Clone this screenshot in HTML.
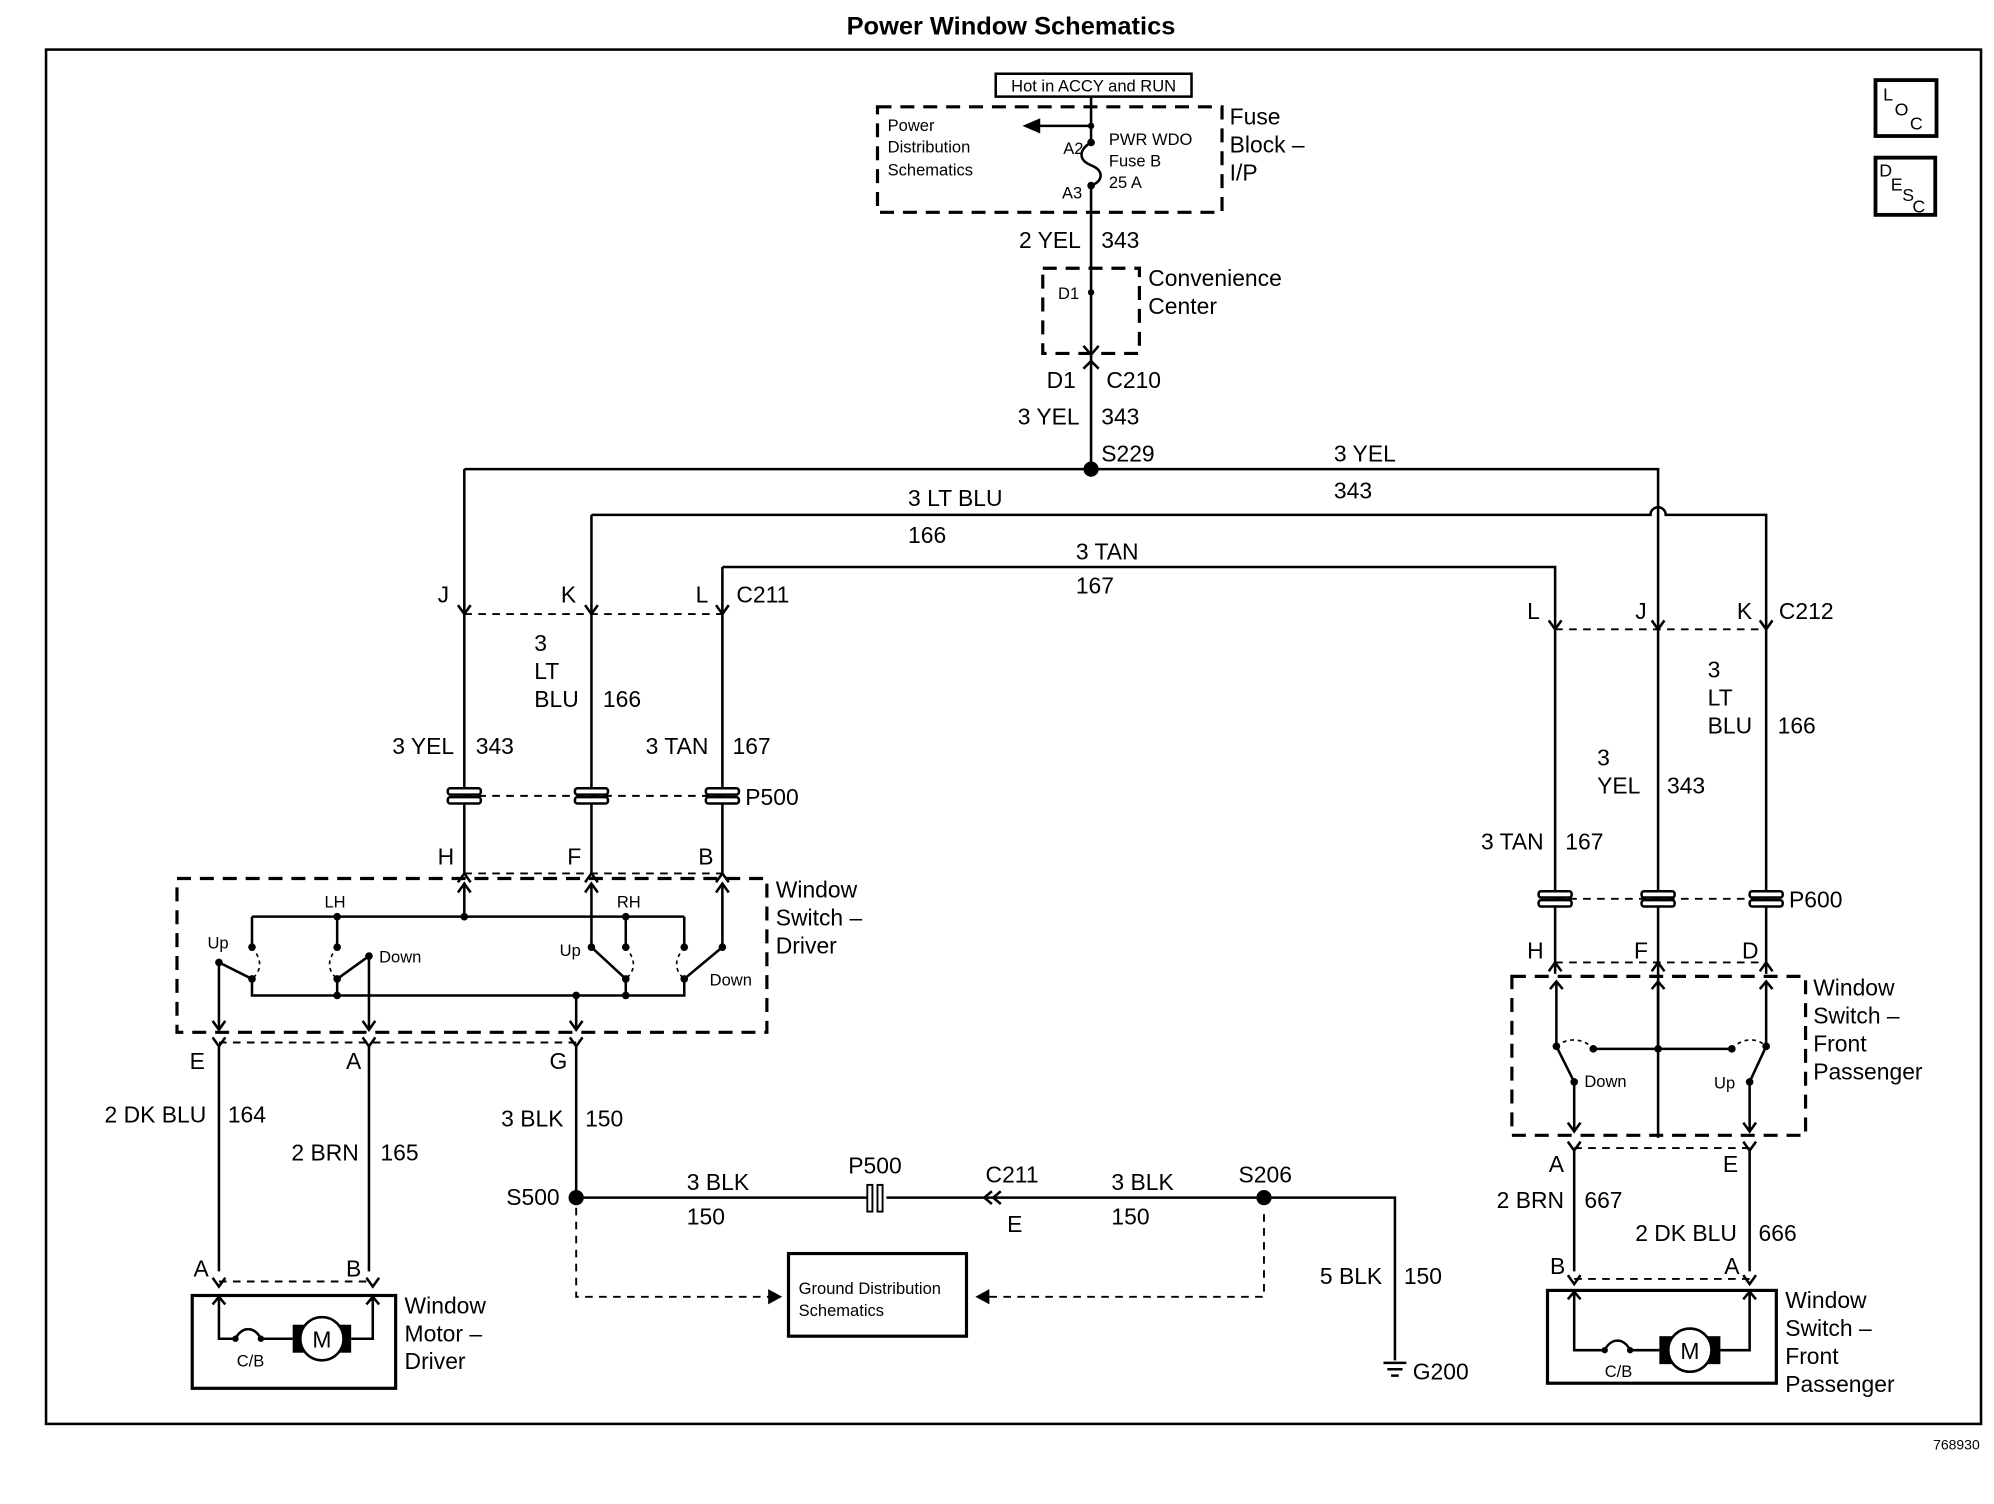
<!DOCTYPE html>
<html><head><meta charset="utf-8"><style>
html,body{margin:0;padding:0;background:#fff}
svg{display:block}
text{font-family:"Liberation Sans",Arial,sans-serif;fill:#000}
.s{stroke:#000;stroke-width:2;fill:none}
.d{stroke:#000;stroke-width:2.5;fill:none;stroke-dasharray:11 7}
.t{stroke:#000;stroke-width:1.5;fill:none;stroke-dasharray:6 5}
.dt{stroke:#000;stroke-width:1.3;fill:none;stroke-dasharray:3 3}
.l{font-size:18px}
.m{font-size:14px}
.sm{font-size:13px}
</style></head><body>
<svg width="1994" height="1504" viewBox="0 0 1568 1183" xmlns="http://www.w3.org/2000/svg">
<rect width="1568" height="1183" fill="#fff"/>
<text x="795" y="27" font-size="20" font-weight="bold" text-anchor="middle">Power Window Schematics</text>
<rect x="36" y="39" width="1522" height="1081" class="s"/>
<!-- LOC DESC -->
<rect x="1475" y="63" width="48" height="44" stroke="#000" stroke-width="3" fill="none"/>
<text x="1481" y="79" class="m">L</text><text x="1490" y="91" class="m">O</text><text x="1502" y="102" class="m">C</text>
<rect x="1475" y="124" width="47" height="45" stroke="#000" stroke-width="3" fill="none"/>
<text x="1478" y="139" class="m">D</text><text x="1487" y="150" class="m">E</text><text x="1496" y="158" class="m">S</text><text x="1504" y="167" class="m">C</text>
<!-- Fuse block -->
<rect x="783" y="58" width="154" height="18" stroke="#000" stroke-width="2" fill="none"/>
<text x="860" y="72" class="sm" text-anchor="middle">Hot in ACCY and RUN</text>
<rect x="690" y="84" width="271" height="83" class="d"/>
<text x="698" y="103" class="sm">Power</text><text x="698" y="120" class="sm">Distribution</text><text x="698" y="138" class="sm">Schematics</text>
<path class="s" d="M858 76 V112 M858 146 V369"/>
<path class="s" d="M858 112 C848 118 848 126 858 130 C868 134 868 142 858 146"/>
<path class="s" d="M858 99 H815"/><path d="M804 99 L818 93 L818 105 Z"/>
<circle cx="858" cy="99" r="2.5"/><circle cx="858" cy="112" r="3"/><circle cx="858" cy="146" r="3"/>
<text x="852" y="121" class="sm" text-anchor="end">A2</text><text x="851" y="156" class="sm" text-anchor="end">A3</text>
<text x="872" y="114" class="sm">PWR WDO</text><text x="872" y="131" class="sm">Fuse B</text><text x="872" y="148" class="sm">25 A</text>
<text x="967" y="98" class="l">Fuse</text><text x="967" y="120" class="l">Block –</text><text x="967" y="142" class="l">I/P</text>
<text x="850" y="195" class="l" text-anchor="end">2 YEL</text><text x="866" y="195" class="l">343</text>
<!-- convenience center -->
<rect x="820" y="211" width="76" height="67" class="d"/>
<circle cx="858" cy="230" r="2.5"/><text x="832" y="235" class="sm">D1</text>
<text x="903" y="225" class="l">Convenience</text><text x="903" y="247" class="l">Center</text>
<path class="s" d="M852 272 L858 279 L864 272 M852 290 L858 284 L864 290"/>
<text x="846" y="305" class="l" text-anchor="end">D1</text><text x="870" y="305" class="l">C210</text>
<text x="849" y="334" class="l" text-anchor="end">3 YEL</text><text x="866" y="334" class="l">343</text>
<circle cx="858" cy="369" r="6"/><text x="866" y="363" class="l">S229</text>
<!-- main buses -->
<path class="s" d="M365 369 H1304 V895"/>
<text x="1049" y="363" class="l">3 YEL</text><text x="1049" y="392" class="l">343</text>
<path class="s" d="M465 405 H1298 A6 6 0 0 1 1310 405 H1389 V766"/>
<text x="714" y="398" class="l">3 LT BLU</text><text x="714" y="427" class="l">166</text>
<path class="s" d="M568 446 H1223 V766"/>
<text x="846" y="440" class="l">3 TAN</text><text x="846" y="467" class="l">167</text>
<path class="s" d="M365 369 V687 M465 405 V687 M568 446 V687"/>
<!-- C211 -->
<path class="t" d="M365 483 H568"/>
<path class="s" d="M360 476 L365 483 L370 476 M460 476 L465 483 L470 476 M563 476 L568 483 L573 476"/>
<text x="353" y="474" class="l" text-anchor="end">J</text><text x="453" y="474" class="l" text-anchor="end">K</text><text x="557" y="474" class="l" text-anchor="end">L</text><text x="579" y="474" class="l">C211</text>
<text x="420" y="512" class="l">3</text><text x="420" y="534" class="l">LT</text><text x="420" y="556" class="l">BLU</text><text x="474" y="556" class="l">166</text>
<text x="357" y="593" class="l" text-anchor="end">3 YEL</text><text x="374" y="593" class="l">343</text>
<text x="557" y="593" class="l" text-anchor="end">3 TAN</text><text x="576" y="593" class="l">167</text>
<!-- P500 inline -->
<path class="t" d="M365 626 H568"/>
<g stroke="#000" stroke-width="2" fill="#fff">
<rect x="352" y="620" width="26" height="5" rx="2"/><rect x="352" y="627" width="26" height="5" rx="2"/>
<rect x="452" y="620" width="26" height="5" rx="2"/><rect x="452" y="627" width="26" height="5" rx="2"/>
<rect x="555" y="620" width="26" height="5" rx="2"/><rect x="555" y="627" width="26" height="5" rx="2"/>
</g>
<text x="586" y="633" class="l">P500</text>
<path class="t" d="M365 687 H568"/>
<path class="s" d="M360 694 L365 687 L370 694 M460 694 L465 687 L470 694 M563 694 L568 687 L573 694"/>
<text x="357" y="680" class="l" text-anchor="end">H</text><text x="457" y="680" class="l" text-anchor="end">F</text><text x="561" y="680" class="l" text-anchor="end">B</text>
<!-- Driver switch -->
<rect x="139" y="691" width="464" height="121" class="d"/>
<text x="610" y="706" class="l">Window</text><text x="610" y="728" class="l">Switch –</text><text x="610" y="750" class="l">Driver</text>
<path class="s" d="M198 721 H538 M198 721 V745 M265 721 V745 M492 721 V745 M538 721 V745 M365 721 V696"/>
<path class="s" d="M360 702 L365 695 L370 702"/>
<path class="s" d="M198 770 V783 H538 V770 M265 770 V783 M492 770 V783"/>
<path class="s" d="M172 757 L198 770 M172 757 V810 M290 752 L265 770 M290 752 V810 M465 745 L492 770 M465 745 V696 M568 745 L538 770 M568 745 V696 M453 783 V810"/>
<path class="s" d="M167 803 L172 810 L177 803 M285 803 L290 810 L295 803 M448 803 L453 810 L458 803 M460 702 L465 695 L470 702 M563 702 L568 695 L573 702"/>
<path class="dt" d="M198 745 C206 755 206 763 198 770 M265 745 C257 755 257 763 265 770 M492 745 C500 755 500 763 492 770 M538 745 C530 755 530 763 538 770"/>
<g><circle cx="198" cy="745" r="3"/><circle cx="265" cy="745" r="3"/><circle cx="492" cy="745" r="3"/><circle cx="538" cy="745" r="3"/>
<circle cx="198" cy="770" r="3"/><circle cx="265" cy="770" r="3"/><circle cx="492" cy="770" r="3"/><circle cx="538" cy="770" r="3"/>
<circle cx="172" cy="757" r="3"/><circle cx="290" cy="752" r="3"/><circle cx="465" cy="745" r="3"/><circle cx="568" cy="745" r="3"/>
<circle cx="365" cy="721" r="3"/><circle cx="265" cy="721" r="3"/><circle cx="492" cy="721" r="3"/><circle cx="265" cy="783" r="3"/><circle cx="492" cy="783" r="3"/><circle cx="453" cy="783" r="3"/></g>
<text x="255" y="714" class="sm">LH</text><text x="485" y="714" class="sm">RH</text>
<text x="163" y="746" class="sm">Up</text><text x="298" y="757" class="sm">Down</text><text x="440" y="752" class="sm">Up</text><text x="558" y="775" class="sm">Down</text>
<!-- bottom connectors of driver switch -->
<path class="t" d="M172 820 H453"/>
<path class="s" d="M167 816 L172 823 L177 816 M285 816 L290 823 L295 816 M448 816 L453 823 L458 816"/>
<text x="161" y="841" class="l" text-anchor="end">E</text><text x="284" y="841" class="l" text-anchor="end">A</text><text x="446" y="841" class="l" text-anchor="end">G</text>
<path class="s" d="M172 823 V1000 M290 823 V1000 M453 823 V942"/>
<text x="162" y="883" class="l" text-anchor="end">2 DK BLU</text><text x="179" y="883" class="l">164</text>
<text x="282" y="913" class="l" text-anchor="end">2 BRN</text><text x="299" y="913" class="l">165</text>
<text x="443" y="886" class="l" text-anchor="end">3 BLK</text><text x="460" y="886" class="l">150</text>
<!-- Motor driver -->
<path class="t" d="M172 1008 H293"/>
<path class="s" d="M167 1005 L172 1012 L177 1005 M288 1005 L293 1012 L298 1005"/>
<text x="164" y="1004" class="l" text-anchor="end">A</text><text x="284" y="1004" class="l" text-anchor="end">B</text>
<rect x="151" y="1019" width="160" height="73" stroke="#000" stroke-width="2.5" fill="none"/>
<path class="s" d="M172 1020 V1053 H185 M205 1053 H230 M276 1053 H293 V1020"/>
<path class="s" d="M167 1026 L172 1020 L177 1026 M288 1026 L293 1020 L298 1026"/>
<path class="s" d="M185 1053 C190 1043 200 1043 205 1053"/><circle cx="185" cy="1053" r="2.5"/><circle cx="205" cy="1053" r="2.5"/>
<rect x="230" y="1042" width="10" height="22"/><rect x="266" y="1042" width="10" height="22"/>
<circle cx="253" cy="1053" r="17" stroke="#000" stroke-width="2" fill="#fff"/>
<text x="253" y="1060" class="l" text-anchor="middle">M</text>
<text x="186" y="1075" class="sm">C/B</text>
<text x="318" y="1033" class="l">Window</text><text x="318" y="1055" class="l">Motor –</text><text x="318" y="1077" class="l">Driver</text>
<!-- ground -->
<circle cx="453" cy="942" r="6"/><text x="440" y="948" class="l" text-anchor="end">S500</text>
<path class="s" d="M453 942 H682 M697 942 H788 M788 942 H994 H1097 V1070"/>
<rect x="682" y="932" width="4" height="21" stroke="#000" stroke-width="1.5" fill="#fff"/><rect x="690" y="932" width="4" height="21" stroke="#000" stroke-width="1.5" fill="#fff"/>
<path class="s" d="M780 937 L774 942 L780 947 M787 937 L781 942 L787 947"/>
<text x="540" y="936" class="l">3 BLK</text><text x="540" y="963" class="l">150</text>
<text x="667" y="923" class="l">P500</text><text x="775" y="930" class="l">C211</text><text x="792" y="969" class="l">E</text>
<text x="874" y="936" class="l">3 BLK</text><text x="874" y="963" class="l">150</text>
<circle cx="994" cy="942" r="6"/><text x="974" y="930" class="l">S206</text>
<path class="t" d="M453 950 V1020 H605 M778 1020 H994 V950"/>
<path d="M615 1020 L604 1014 L604 1026 Z M767 1020 L778 1014 L778 1026 Z"/>
<rect x="620" y="986" width="140" height="65" stroke="#000" stroke-width="2.5" fill="none"/>
<text x="628" y="1018" class="sm">Ground Distribution</text><text x="628" y="1035" class="sm">Schematics</text>
<text x="1087" y="1010" class="l" text-anchor="end">5 BLK</text><text x="1104" y="1010" class="l">150</text>
<path class="s" d="M1088 1072 H1106 M1091 1077 H1103 M1094 1082 H1100"/>
<text x="1111" y="1085" class="l">G200</text>
<!-- C212 right -->
<path class="t" d="M1223 495 H1389"/>
<path class="s" d="M1218 488 L1223 495 L1228 488 M1299 488 L1304 495 L1309 488 M1384 488 L1389 495 L1394 488"/>
<text x="1211" y="487" class="l" text-anchor="end">L</text><text x="1295" y="487" class="l" text-anchor="end">J</text><text x="1378" y="487" class="l" text-anchor="end">K</text><text x="1399" y="487" class="l">C212</text>
<text x="1343" y="533" class="l">3</text><text x="1343" y="555" class="l">LT</text><text x="1343" y="577" class="l">BLU</text><text x="1398" y="577" class="l">166</text>
<text x="1256" y="602" class="l">3</text><text x="1256" y="624" class="l">YEL</text><text x="1311" y="624" class="l">343</text>
<text x="1214" y="668" class="l" text-anchor="end">3 TAN</text><text x="1231" y="668" class="l">167</text>
<path class="t" d="M1223 707 H1389"/>
<g stroke="#000" stroke-width="2" fill="#fff">
<rect x="1210" y="701" width="26" height="5" rx="2"/><rect x="1210" y="708" width="26" height="5" rx="2"/>
<rect x="1291" y="701" width="26" height="5" rx="2"/><rect x="1291" y="708" width="26" height="5" rx="2"/>
<rect x="1376" y="701" width="26" height="5" rx="2"/><rect x="1376" y="708" width="26" height="5" rx="2"/>
</g>
<text x="1407" y="714" class="l">P600</text>
<path class="t" d="M1223 757 H1389"/>
<path class="s" d="M1218 764 L1223 757 L1228 764 M1299 764 L1304 757 L1309 764 M1384 764 L1389 757 L1394 764"/>
<text x="1214" y="754" class="l" text-anchor="end">H</text><text x="1296" y="754" class="l" text-anchor="end">F</text><text x="1383" y="754" class="l" text-anchor="end">D</text>
<!-- passenger switch -->
<rect x="1189" y="768" width="231" height="125" class="d"/>
<text x="1426" y="783" class="l">Window</text><text x="1426" y="805" class="l">Switch –</text><text x="1426" y="827" class="l">Front</text><text x="1426" y="849" class="l">Passenger</text>
<path class="s" d="M1224 772 V823 M1304 772 V825 M1389 772 V823 M1253 825 H1362"/>
<path class="s" d="M1219 778 L1224 772 L1229 778 M1299 778 L1304 772 L1309 778 M1384 778 L1389 772 L1394 778"/>
<path class="s" d="M1238 851 L1224 823 M1238 851 V890 M1376 851 L1389 823 M1376 851 V890"/>
<path class="s" d="M1233 883 L1238 890 L1243 883 M1371 883 L1376 890 L1381 883"/>
<path class="dt" d="M1224 823 C1232 816 1245 816 1253 825 M1362 825 C1370 816 1382 816 1389 823"/>
<g><circle cx="1224" cy="823" r="3"/><circle cx="1253" cy="825" r="3"/><circle cx="1304" cy="825" r="3"/><circle cx="1362" cy="825" r="3"/><circle cx="1389" cy="823" r="3"/><circle cx="1238" cy="851" r="3"/><circle cx="1376" cy="851" r="3"/></g>
<text x="1246" y="855" class="sm">Down</text><text x="1348" y="856" class="sm">Up</text>
<path class="t" d="M1238 903 H1376"/>
<path class="s" d="M1233 898 L1238 905 L1243 898 M1371 898 L1376 905 L1381 898"/>
<text x="1230" y="922" class="l" text-anchor="end">A</text><text x="1367" y="922" class="l" text-anchor="end">E</text>
<path class="s" d="M1238 905 V1000 M1376 905 V1000"/>
<text x="1230" y="950" class="l" text-anchor="end">2 BRN</text><text x="1246" y="950" class="l">667</text>
<text x="1366" y="976" class="l" text-anchor="end">2 DK BLU</text><text x="1383" y="976" class="l">666</text>
<path class="t" d="M1238 1006 H1376"/>
<path class="s" d="M1233 1003 L1238 1010 L1243 1003 M1371 1003 L1376 1010 L1381 1003"/>
<text x="1231" y="1002" class="l" text-anchor="end">B</text><text x="1368" y="1002" class="l" text-anchor="end">A</text>
<rect x="1217" y="1015" width="180" height="73" stroke="#000" stroke-width="2.5" fill="none"/>
<path class="s" d="M1238 1016 V1062 H1262 M1282 1062 H1305 M1353 1062 H1376 V1016"/>
<path class="s" d="M1233 1022 L1238 1016 L1243 1022 M1371 1022 L1376 1016 L1381 1022"/>
<path class="s" d="M1262 1062 C1267 1052 1277 1052 1282 1062"/><circle cx="1262" cy="1062" r="2.5"/><circle cx="1282" cy="1062" r="2.5"/>
<rect x="1305" y="1051" width="10" height="22"/><rect x="1343" y="1051" width="10" height="22"/>
<circle cx="1329" cy="1062" r="17" stroke="#000" stroke-width="2" fill="#fff"/>
<text x="1329" y="1069" class="l" text-anchor="middle">M</text>
<text x="1262" y="1083" class="sm">C/B</text>
<text x="1404" y="1029" class="l">Window</text><text x="1404" y="1051" class="l">Switch –</text><text x="1404" y="1073" class="l">Front</text><text x="1404" y="1095" class="l">Passenger</text>
<text x="1557" y="1140" font-size="11" text-anchor="end">768930</text>
</svg>
</body></html>
